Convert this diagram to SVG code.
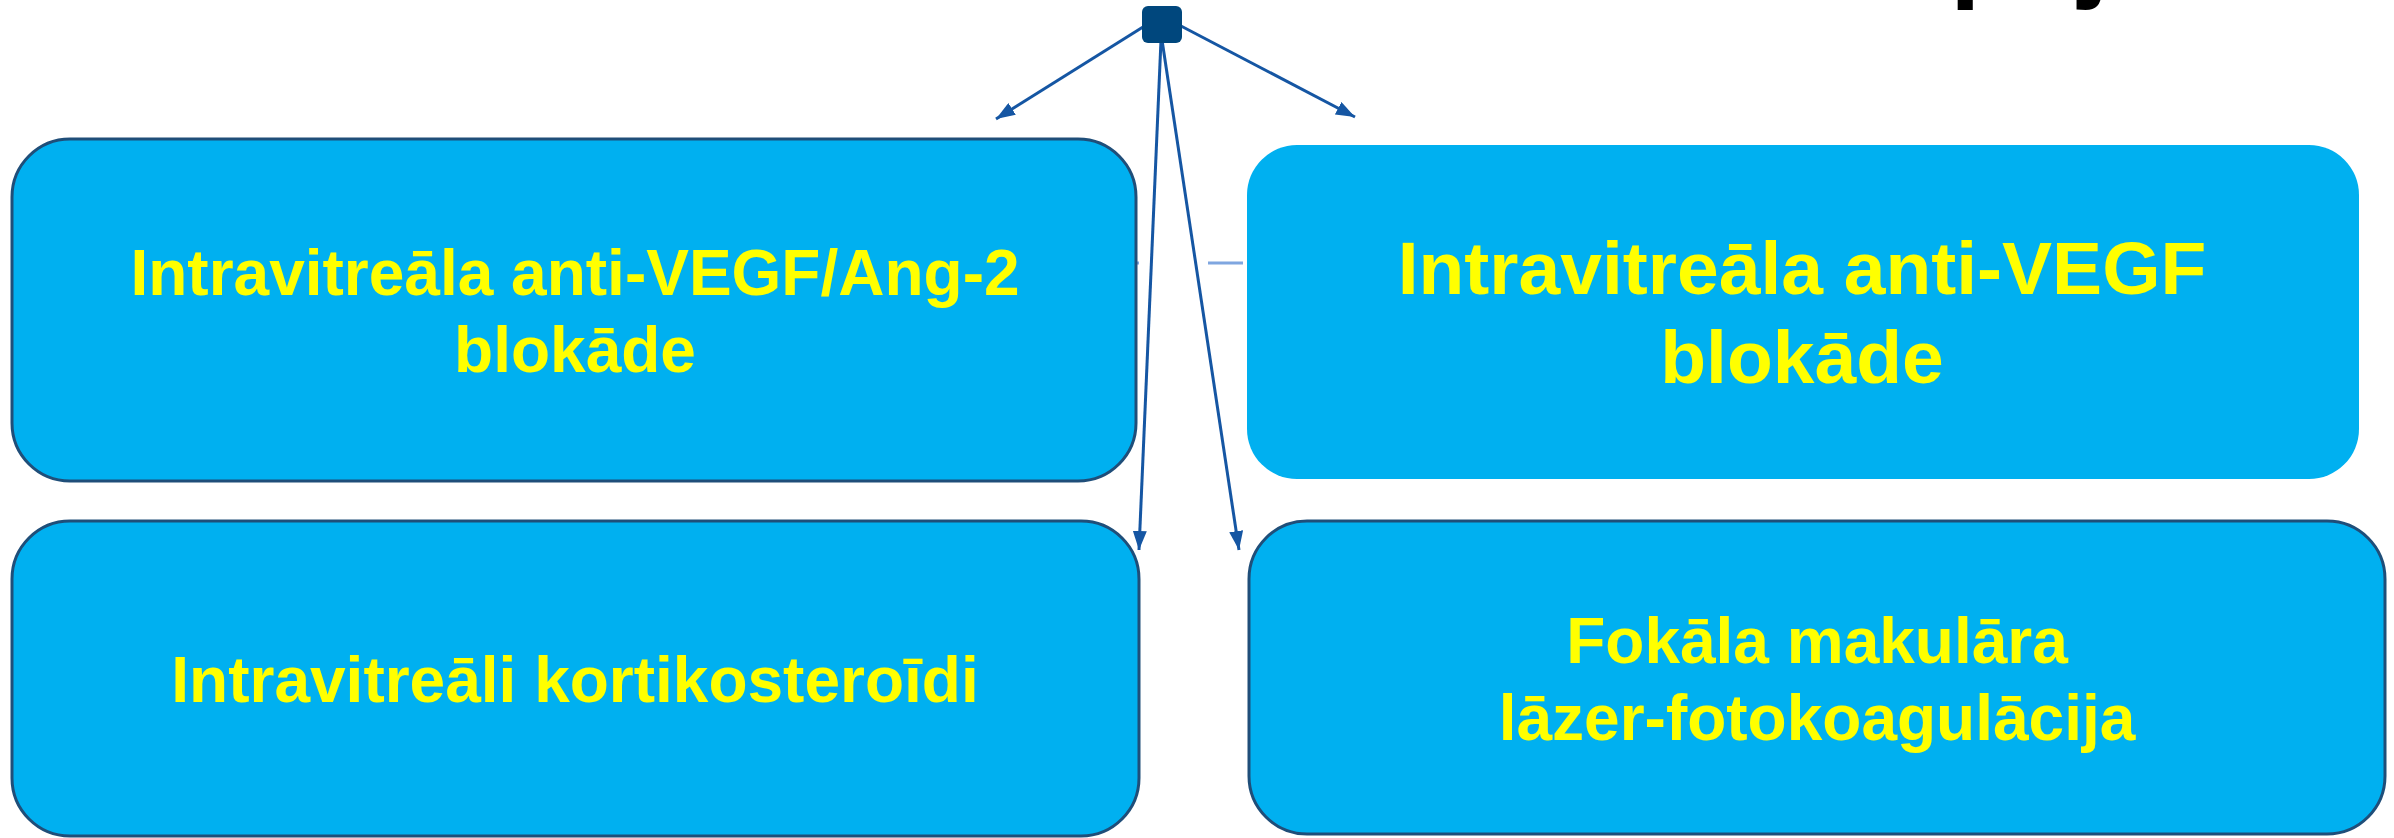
<svg xmlns="http://www.w3.org/2000/svg" width="2394" height="838" viewBox="0 0 2394 838">
  <style>
    .box { fill: #00B0F0; }
    .stroked { stroke: #1F4E79; stroke-width: 3; }
    .lbl { font-family: "Liberation Sans", Arial, sans-serif; font-weight: bold; fill: #FFFF00; text-anchor: middle; }
    .conn { stroke: #1556A3; stroke-width: 3; fill: none; }
    .faint { stroke: #7FA6E0; stroke-width: 3; fill: none; }
  </style>
  <defs>
    <marker id="arrow" markerUnits="userSpaceOnUse" markerWidth="20" markerHeight="14" refX="19" refY="7" orient="auto">
      <path d="M0,0 L19,7 L0,14 Z" fill="#1556A3"/>
    </marker>
  </defs>
  <rect width="2394" height="838" fill="#FFFFFF"/>
  <text x="1950" y="-13" font-family="Liberation Sans, Arial, sans-serif" font-weight="bold" font-size="110" fill="#000000">pēj</text>
  <g id="connectors">
    <line class="faint" x1="1135" y1="263" x2="1139" y2="263"/>
    <line class="faint" x1="1208" y1="263" x2="1243" y2="263"/>
  </g>
  <g id="box1">
    <rect class="box stroked" x="12" y="139" width="1124" height="342" rx="58"/>
    <text class="lbl" font-size="64" x="575" y="295">Intravitreāla anti-VEGF/Ang-2</text>
    <text class="lbl" font-size="64" x="575" y="372">blokāde</text>
  </g>
  <g id="box2">
    <rect class="box" x="1247" y="145" width="1112" height="334" rx="50"/>
    <text class="lbl" font-size="75" x="1802" y="294">Intravitreāla anti-VEGF</text>
    <text class="lbl" font-size="75" x="1802" y="383">blokāde</text>
  </g>
  <g id="box3">
    <rect class="box stroked" x="12" y="521" width="1127" height="315" rx="58"/>
    <text class="lbl" font-size="64" x="575" y="702">Intravitreāli kortikosteroīdi</text>
  </g>
  <g id="box4">
    <rect class="box stroked" x="1249" y="521" width="1136" height="313" rx="58"/>
    <text class="lbl" font-size="64" x="1817" y="663">Fokāla makulāra</text>
    <text class="lbl" font-size="64" x="1817" y="740">lāzer-fotokoagulācija</text>
  </g>
  <g id="arrows">
    <line class="conn" x1="1143" y1="27" x2="996" y2="119" marker-end="url(#arrow)"/>
    <line class="conn" x1="1181" y1="26" x2="1355" y2="117" marker-end="url(#arrow)"/>
    <line class="conn" x1="1161" y1="40" x2="1139" y2="550" marker-end="url(#arrow)"/>
    <line class="conn" x1="1162" y1="40" x2="1239" y2="550" marker-end="url(#arrow)"/>
  </g>
  <g id="hub">
    <rect x="1142" y="6" width="40" height="37" rx="6" fill="#00477D"/>
  </g>
</svg>
